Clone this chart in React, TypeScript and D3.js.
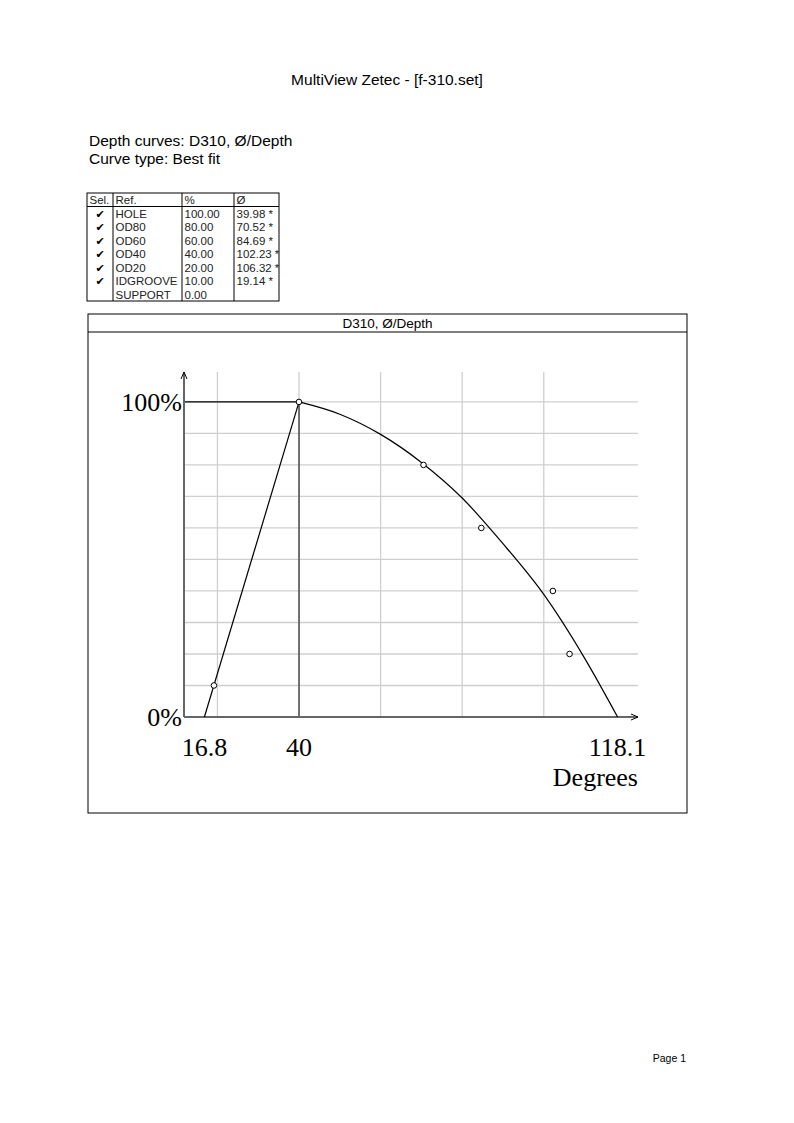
import React from "react";
import * as d3 from "d3";

// ---- data ----
const refs = ["HOLE", "OD80", "OD60", "OD40", "OD20", "IDGROOVE", "SUPPORT"];
const percents = [100, 80, 60, 40, 20, 10, 0];
const diameters: (number | null)[] = [39.98, 70.52, 84.69, 102.23, 106.32, 19.14, null];
const selected = [true, true, true, true, true, true, false];

// straight fit (IDGROOVE -> HOLE)
const lineDeg = [16.8, 40];
const linePct = [0, 100];
// best-fit curve, points
const fitDeg = [40, 50, 60, 70, 80, 90, 100, 110, 118.1];
const fitPct = [100, 96.1, 89.7, 80.8, 69.5, 55, 38.9, 18.7, 0];

const xTicks = [16.8, 40, 118.1];
const yTicks = [0, 100];
const xGrid = [20, 40, 60, 80, 100];
const yGrid = [10, 20, 30, 40, 50, 60, 70, 80, 90, 100];
const xDomain = [11.8, 123.1];
const yDomain = [0, 109.5];

const SANS = "'Liberation Sans', Arial, sans-serif";
const SERIF = "'Liberation Serif', 'Times New Roman', serif";

export default function App() {
  const x = d3.scaleLinear().domain(xDomain).range([184, 638]);
  const y = d3.scaleLinear().domain(yDomain).range([717, 372]);

  const lineGen = d3
    .line<[number, number]>()
    .x((d) => x(d[0]))
    .y((d) => y(d[1]));
  const curveGen = d3
    .line<[number, number]>()
    .x((d) => x(d[0]))
    .y((d) => y(d[1]))
    .curve(d3.curveMonotoneX);

  const linePts: [number, number][] = lineDeg.map((d, i) => [d, linePct[i]]);
  const fitPts: [number, number][] = fitDeg.map((d, i) => [d, fitPct[i]]);

  const pts = refs
    .map((r, i) => ({ r, p: percents[i], d: diameters[i], s: selected[i] }))
    .filter((o) => o.s && o.d !== null);

  // table geometry
  const colX = [87, 113, 182, 234, 279];
  const tTop = 193;
  const rowH = 13.5;
  const nRows = refs.length + 1;
  const tBottom = tTop + rowH * nRows;

  const [x0] = x.range();
  const [, yTop] = y.range();
  const xEnd = x.range()[1];
  const y0 = y(0);

  return (
    <svg
      width={794}
      height={1123}
      style={{ position: "absolute", left: 0, top: 0, background: "#fff" }}
    >
      <rect x={0} y={0} width={794} height={1123} fill="#fff" />
      {/* page title */}
      <text x={387} y={85} textAnchor="middle" fontFamily={SANS} fontSize={15.5}>
        MultiView Zetec - [f-310.set]
      </text>
      <text x={89} y={146} fontFamily={SANS} fontSize={15.5}>
        Depth curves: D310, Ø/Depth
      </text>
      <text x={89} y={164} fontFamily={SANS} fontSize={15.5}>
        Curve type: Best fit
      </text>

      {/* table */}
      <g fontFamily={SANS} fontSize={11.5} fill="#222">
        <rect
          x={colX[0]}
          y={tTop}
          width={colX[4] - colX[0]}
          height={tBottom - tTop}
          fill="none"
          stroke="#000"
          strokeWidth={1}
        />
        {colX.slice(1, 4).map((cx) => (
          <line key={cx} x1={cx} x2={cx} y1={tTop} y2={tBottom} stroke="#000" />
        ))}
        <line x1={colX[0]} x2={colX[4]} y1={tTop + rowH} y2={tTop + rowH} stroke="#000" />
        {["Sel.", "Ref.", "%", "Ø"].map((h, i) => (
          <text key={h} x={colX[i] + 2.5} y={tTop + rowH - 2.5}>
            {h}
          </text>
        ))}
        {refs.map((r, i) => {
          const by = tTop + rowH * (i + 2) - 2.5;
          return (
            <g key={r}>
              {selected[i] && (
                <text
                  x={(colX[0] + colX[1]) / 2}
                  y={by}
                  textAnchor="middle"
                  fontFamily="'DejaVu Sans', sans-serif"
                  fontWeight="bold"
                  fontSize={11}
                  fill="#000"
                >
                  ✔
                </text>
              )}
              <text x={colX[1] + 2.5} y={by}>
                {r}
              </text>
              <text x={colX[2] + 2.5} y={by}>
                {percents[i].toFixed(2)}
              </text>
              {diameters[i] !== null && (
                <text x={colX[3] + 2.5} y={by}>
                  {(diameters[i] as number).toFixed(2) + " *"}
                </text>
              )}
            </g>
          );
        })}
      </g>

      {/* chart frame */}
      <rect x={88} y={314} width={599} height={499} fill="none" stroke="#000" strokeWidth={1} />
      <line x1={88} x2={687} y1={332} y2={332} stroke="#000" />
      <text x={387.5} y={327.5} textAnchor="middle" fontFamily={SANS} fontSize={13.5}>
        D310, Ø/Depth
      </text>

      {/* grid */}
      <g stroke="#cfcfcf" strokeWidth={1.3}>
        {xGrid.map((g) => (
          <line key={"gx" + g} x1={x(g)} x2={x(g)} y1={yTop} y2={y0} />
        ))}
        {yGrid.map((g) => (
          <line key={"gy" + g} x1={x0} x2={xEnd} y1={y(g)} y2={y(g)} />
        ))}
      </g>

      {/* reference lines */}
      <line x1={x(40)} x2={x(40)} y1={y(100)} y2={y0} stroke="#555" strokeWidth={1.6} />
      <line x1={x0} x2={x(40)} y1={y(100)} y2={y(100)} stroke="#000" strokeWidth={1.2} />

      {/* axes */}
      <line x1={x0} x2={x0} y1={y0} y2={yTop} stroke="#666" strokeWidth={2} />
      <line x1={x0} x2={xEnd} y1={y0} y2={y0} stroke="#666" strokeWidth={2} />
      <path
        d={`M${x0 - 3},${yTop + 7} L${x0},${yTop} L${x0 + 3},${yTop + 7}`}
        fill="none"
        stroke="#000"
        strokeWidth={1}
      />
      <path
        d={`M${xEnd - 7},${y0 - 3} L${xEnd},${y0} L${xEnd - 7},${y0 + 3}`}
        fill="none"
        stroke="#000"
        strokeWidth={1}
      />

      {/* curves */}
      <path d={lineGen(linePts) || ""} fill="none" stroke="#000" strokeWidth={1.2} />
      <path d={curveGen(fitPts) || ""} fill="none" stroke="#000" strokeWidth={1.2} />

      {/* points */}
      {pts.map((o) => (
        <circle
          key={o.r}
          cx={x(o.d as number)}
          cy={y(o.p)}
          r={2.8}
          fill="#fff"
          stroke="#000"
          strokeWidth={1}
        />
      ))}

      {/* tick labels */}
      <g fontFamily={SERIF} fontSize={26} fill="#000">
        {yTicks.map((t) => (
          <text key={"yt" + t} x={x0 - 2} y={y(t) + 9} textAnchor="end">
            {t + "%"}
          </text>
        ))}
        {xTicks.map((t) => (
          <text key={"xt" + t} x={x(t)} y={756} textAnchor="middle">
            {String(t)}
          </text>
        ))}
        <text x={xEnd} y={786} textAnchor="end">
          Degrees
        </text>
      </g>

      <text x={686} y={1062} textAnchor="end" fontFamily={SANS} fontSize={10.5}>
        Page 1
      </text>
    </svg>
  );
}
